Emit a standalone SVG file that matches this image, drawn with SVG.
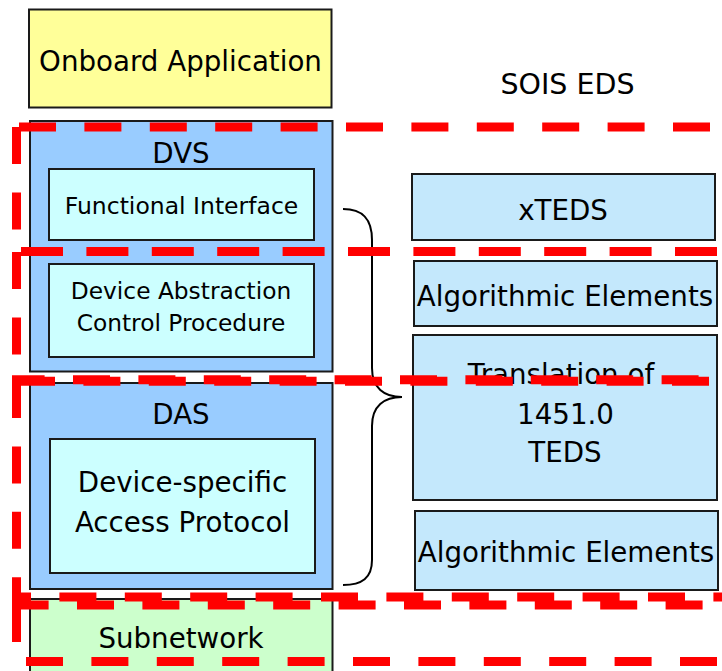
<svg xmlns="http://www.w3.org/2000/svg" width="722" height="671" viewBox="0 0 722 671">
  <style>
    .box { stroke: #1a1a1a; stroke-width: 2; }
    .app { fill: #ffff99; }
    .svc { fill: #99ccff; }
    .inner { fill: #ccffff; }
    .eds { fill: #c4e8fc; }
    .net { fill: #ccffcc; }
    text { font-family: "DejaVu Sans", Verdana, sans-serif; fill: #000; text-anchor: middle; }
    .lg { font-size: 27.7px; }
    .sm { font-size: 23.3px; }
    .brace { fill: none; stroke: #000; stroke-width: 2; }
    .region { fill: none; stroke: #ff0000; stroke-width: 9; stroke-dasharray: 37 28.4; }
  </style>

  <rect width="722" height="671" fill="#ffffff"/>

  <g id="onboard-application">
    <rect class="box app" x="29" y="9.5" width="302.5" height="98"/>
    <text class="lg" x="180.5" y="71">Onboard Application</text>
  </g>

  <text id="sois-eds-label" class="lg" x="567.5" y="94" style="font-size:28.5px">SOIS EDS</text>

  <g id="dvs">
    <rect class="box svc" x="30" y="121" width="302.5" height="250.5"/>
    <text class="lg" x="181" y="163">DVS</text>
  </g>
  <g id="functional-interface">
    <rect class="box inner" x="49" y="169" width="265" height="71"/>
    <text class="sm" x="181.5" y="214" style="font-size:23.5px">Functional Interface</text>
  </g>
  <g id="device-abstraction">
    <rect class="box inner" x="49" y="264" width="265" height="93"/>
    <text class="sm" x="181" y="299">Device Abstraction</text>
    <text class="sm" x="181" y="331">Control Procedure</text>
  </g>

  <g id="das">
    <rect class="box svc" x="30" y="383" width="302.5" height="206"/>
    <text class="lg" x="181" y="424">DAS</text>
  </g>
  <g id="access-protocol">
    <rect class="box inner" x="50" y="439" width="265" height="134"/>
    <text class="lg" x="182.5" y="492">Device-specific</text>
    <text class="lg" x="182.5" y="532">Access Protocol</text>
  </g>

  <g id="subnetwork">
    <rect class="box net" x="30" y="599" width="302.5" height="85"/>
    <text class="lg" x="181" y="648">Subnetwork</text>
  </g>

  <g id="xteds">
    <rect class="box eds" x="412" y="174" width="303" height="66"/>
    <text class="lg" x="563" y="220">xTEDS</text>
  </g>
  <g id="algorithmic-elements-1">
    <rect class="box eds" x="414" y="261" width="303" height="65"/>
    <text class="lg" x="565" y="306">Algorithmic Elements</text>
  </g>
  <g id="translation-teds">
    <rect class="box eds" x="413" y="335" width="304" height="165"/>
    <text class="lg" x="561" y="384">Translation of</text>
    <text class="lg" x="565.5" y="424">1451.0</text>
    <text class="lg" x="565" y="462">TEDS</text>
  </g>
  <g id="algorithmic-elements-2">
    <rect class="box eds" x="415" y="511" width="303" height="79"/>
    <text class="lg" x="566" y="562">Algorithmic Elements</text>
  </g>

  <g id="connectors">
    <!-- curly brace grouping the DVS/DAS layers -->
    <path class="brace" d="M343,209 C362,209 372,218 372,240 L372,368 C372,388 384,397 402,397 C384,397 372,406 372,426 L372,560 C372,578 362,585 343,585"/>
  </g>

  <g id="eds-regions">
    <!-- upper region -->
    <line class="region" x1="19" y1="127" x2="730" y2="127"/>
    <line class="region" x1="16.5" y1="127" x2="16.5" y2="250"/>
    <line class="region" x1="21" y1="251.5" x2="730" y2="251.5"/>
    <!-- middle region -->
    <line class="region" x1="21" y1="251.5" x2="730" y2="251.5" stroke-dashoffset="60.4"/>
    <line class="region" x1="16.5" y1="252" x2="16.5" y2="379"/>
    <line class="region" x1="12" y1="379.8" x2="730" y2="379.8" stroke-dashoffset="4.4"/>
    <!-- lower region -->
    <line class="region" x1="18" y1="381.2" x2="730" y2="381.2"/>
    <line class="region" x1="16.5" y1="381" x2="16.5" y2="601"/>
    <line class="region" x1="12" y1="597" x2="730" y2="597" stroke-dashoffset="18"/>
    <!-- subnetwork region -->
    <line class="region" x1="12" y1="605" x2="730" y2="605" stroke-dashoffset="0.4"/>
    <line class="region" x1="16.5" y1="605" x2="16.5" y2="665"/>
    <line class="region" x1="12" y1="661.5" x2="730" y2="661.5" stroke-dashoffset="51.4"/>
  </g>
</svg>
